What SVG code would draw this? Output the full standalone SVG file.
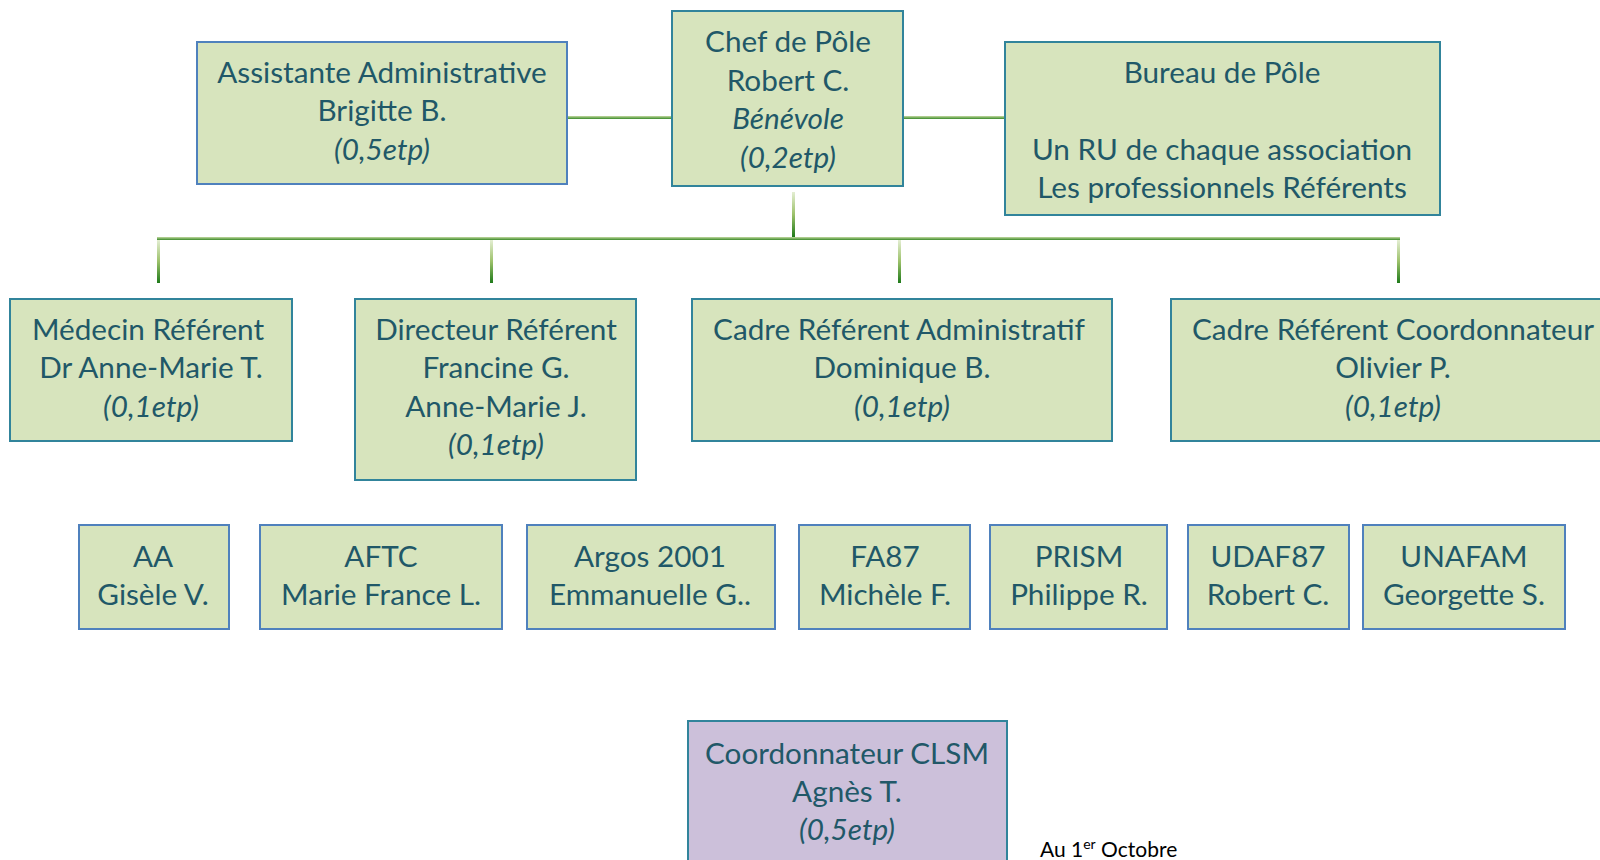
<svg xmlns="http://www.w3.org/2000/svg" width="1600" height="860" viewBox="0 0 1600 860">
<defs>
<linearGradient id="gv" x1="0" y1="0" x2="0" y2="1">
<stop offset="0" stop-color="#e4eed3"/>
<stop offset="0.5" stop-color="#9cc16a"/>
<stop offset="1" stop-color="#1f7a1a"/>
</linearGradient>
<linearGradient id="gh" x1="0" y1="0" x2="0" y2="1">
<stop offset="0" stop-color="#c3d9a0"/>
<stop offset="1" stop-color="#3a8a2a"/>
</linearGradient>
</defs>
<style>
.box{fill:#d7e4bd;stroke-width:2}
.teal{stroke:#31849b}
.blue{stroke:#4f81bd}
.lilac{fill:#ccc0da;stroke:#31849b;stroke-width:2}
text{font-family:Lato,"Open Sans","Liberation Sans",sans-serif;font-size:29.7px;fill:#215868;text-anchor:middle}
.i{font-style:italic}
.note{font-size:21px;fill:#000;text-anchor:start}
</style>
<rect width="1600" height="860" fill="#ffffff"/>
<g id="connectors">
<rect x="567" y="116" width="105" height="3" fill="url(#gh)"/>
<rect x="903" y="116" width="102" height="3" fill="url(#gh)"/>
<rect x="792" y="192" width="3" height="45" fill="url(#gv)"/>
<rect x="157" y="237" width="1243" height="3" fill="url(#gh)"/>
<rect x="157" y="240" width="3" height="43" fill="url(#gv)"/>
<rect x="490" y="240" width="3" height="43" fill="url(#gv)"/>
<rect x="898" y="240" width="3" height="43" fill="url(#gv)"/>
<rect x="1397" y="240" width="3" height="43" fill="url(#gv)"/>
</g>
<g id="assistante">
<rect class="box blue" x="197" y="42" width="370" height="142"/>
<text x="382" y="83">Assistante Administrative</text>
<text x="382" y="121">Brigitte B.</text>
<text x="382" y="159.5" class="i">(0,5etp)</text>
</g>
<g id="chef">
<rect class="box teal" x="672" y="11" width="231" height="175"/>
<text x="788" y="52">Chef de Pôle</text>
<text x="788" y="91">Robert C.</text>
<text x="788" y="129" class="i">Bénévole</text>
<text x="788" y="168" class="i">(0,2etp)</text>
</g>
<g id="bureau">
<rect class="box teal" x="1005" y="42" width="435" height="173"/>
<text x="1222" y="83">Bureau de Pôle</text>
<text x="1222" y="159.5">Un RU de chaque association</text>
<text x="1222" y="198">Les professionnels Référents</text>
</g>
<g id="medecin">
<rect class="box teal" x="10" y="299" width="282" height="142"/>
<text x="148" y="340">Médecin Référent</text>
<text x="151" y="378">Dr Anne-Marie T.</text>
<text x="151" y="417" class="i">(0,1etp)</text>
</g>
<g id="directeur">
<rect class="box teal" x="355" y="299" width="281" height="181"/>
<text x="496" y="340">Directeur Référent</text>
<text x="496" y="378">Francine G.</text>
<text x="496" y="417">Anne-Marie J.</text>
<text x="496" y="455" class="i">(0,1etp)</text>
</g>
<g id="cadre-admin">
<rect class="box teal" x="692" y="299" width="420" height="142"/>
<text x="899" y="340">Cadre Référent Administratif</text>
<text x="902" y="378">Dominique B.</text>
<text x="902" y="417" class="i">(0,1etp)</text>
</g>
<g id="cadre-coord">
<rect class="box teal" x="1171" y="299" width="460" height="142"/>
<text x="1393" y="340">Cadre Référent Coordonnateur</text>
<text x="1393" y="378">Olivier P.</text>
<text x="1393" y="417" class="i">(0,1etp)</text>
</g>
<g id="aa">
<rect class="box blue" x="79" y="525" width="150" height="104"/>
<text x="153" y="567">AA</text>
<text x="153" y="605">Gisèle V.</text>
</g>
<g id="aftc">
<rect class="box blue" x="260" y="525" width="242" height="104"/>
<text x="381" y="567">AFTC</text>
<text x="381" y="605">Marie France L.</text>
</g>
<g id="argos">
<rect class="box blue" x="527" y="525" width="248" height="104"/>
<text x="650" y="567">Argos 2001</text>
<text x="650" y="605">Emmanuelle G..</text>
</g>
<g id="fa87">
<rect class="box blue" x="799" y="525" width="171" height="104"/>
<text x="885" y="567">FA87</text>
<text x="885" y="605">Michèle F.</text>
</g>
<g id="prism">
<rect class="box blue" x="990" y="525" width="177" height="104"/>
<text x="1079" y="567">PRISM</text>
<text x="1079" y="605">Philippe R.</text>
</g>
<g id="udaf87">
<rect class="box blue" x="1188" y="525" width="161" height="104"/>
<text x="1268" y="567">UDAF87</text>
<text x="1268" y="605">Robert C.</text>
</g>
<g id="unafam">
<rect class="box blue" x="1363" y="525" width="202" height="104"/>
<text x="1464" y="567">UNAFAM</text>
<text x="1464" y="605">Georgette S.</text>
</g>
<g id="clsm">
<rect class="lilac" x="688" y="721" width="319" height="170"/>
<text x="847" y="764">Coordonnateur CLSM</text>
<text x="847" y="802">Agnès T.</text>
<text x="847" y="840" class="i">(0,5etp)</text>
</g>
<g id="date">
<text class="note" x="1040" y="857">Au 1<tspan font-size="14" dy="-8">er</tspan><tspan dy="8"> Octobre</tspan></text>
</g>
</svg>
